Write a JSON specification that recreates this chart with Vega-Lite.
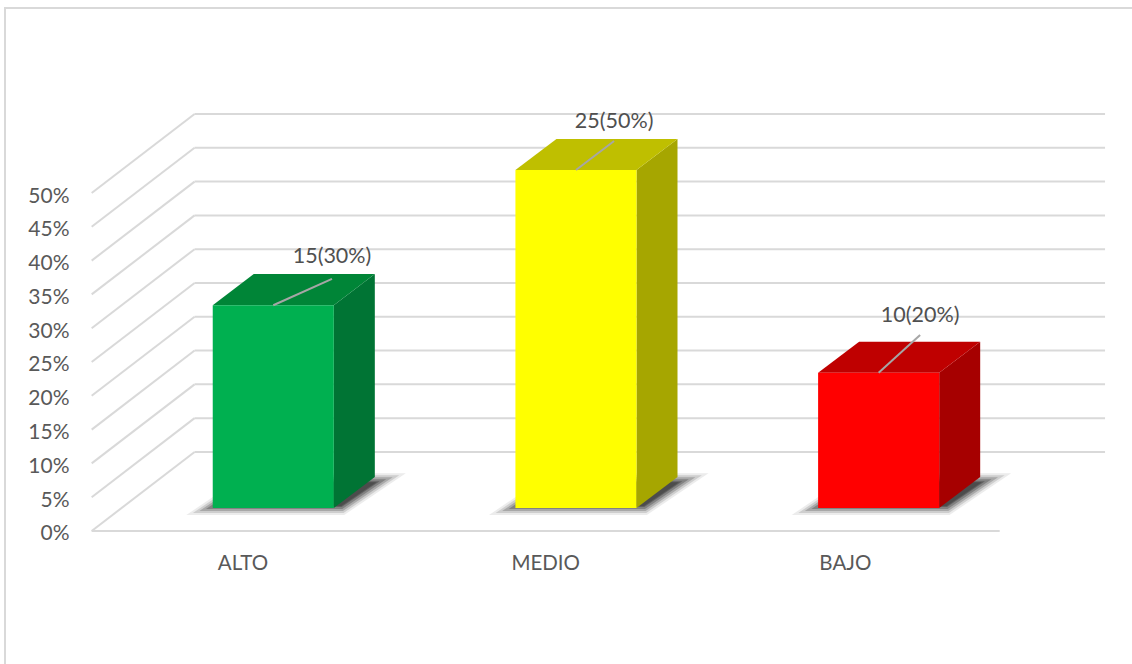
{
  "$schema": "https://vega.github.io/schema/vega-lite/v6.json",
  "width": 1140,
  "height": 670,
  "autosize": "none",
  "padding": {"left": 5, "top": 8, "right": 0, "bottom": 0},
  "background": "white",
  "view": {"stroke": "#d9d9d9", "strokeWidth": 2, "fill": "white"},
  "config": {"font": "Lato", "text": {"font": "Lato"}},
  "datasets": {
    "barras": [
      {"categoria": "ALTO", "orden": 0, "n": 15, "pct": 30, "rotulo": "15(30%)", "rotulo_x": 0.294, "rotulo_y": 37.3, "texto_y": 40.5, "eje_x": 0},
      {"categoria": "MEDIO", "orden": 1, "n": 25, "pct": 50, "rotulo": "25(50%)", "rotulo_x": 1.226, "rotulo_y": 57.7, "texto_y": 60.5, "eje_x": 1},
      {"categoria": "BAJO", "orden": 2, "n": 10, "pct": 20, "rotulo": "10(20%)", "rotulo_x": 2.237, "rotulo_y": 29, "texto_y": 31.8, "eje_x": 1.99}
    ],
    "rejilla": [
      {"nivel": 0}, {"nivel": 5}, {"nivel": 10}, {"nivel": 15}, {"nivel": 20}, {"nivel": 25},
      {"nivel": 30}, {"nivel": 35}, {"nivel": 40}, {"nivel": 45}, {"nivel": 50}
    ]
  },
  "resolve": {"scale": {"color": "independent"}, "axis": {"y": "independent", "x": "independent"}},
  "layer": [
    {
      "description": "Left wall: slanted grid lines running from the front edge to the back wall",
      "data": {"name": "rejilla"},
      "transform": [{"calculate": "datum.nivel + 11.69", "as": "fondo"}],
      "mark": {"type": "rule", "color": "#d9d9d9", "strokeWidth": 2},
      "encoding": {
        "x": {"datum": -0.5, "type": "quantitative", "scale": {"domain": [-0.78634, 2.98], "nice": false, "zero": false}, "axis": null},
        "x2": {"datum": -0.16},
        "y": {
          "field": "nivel",
          "type": "quantitative",
          "scale": {"domain": [-21.75, 77.37], "nice": false, "zero": false},
          "axis": {
            "values": [0, 5, 10, 15, 20, 25, 30, 35, 40, 45, 50],
            "labelExpr": "datum.value + '%'",
            "title": null,
            "domain": false,
            "ticks": false,
            "grid": false,
            "offset": -64,
            "labelPadding": 0,
            "labelOffset": 3,
            "labelFont": "Lato",
            "labelFontSize": 21,
            "labelColor": "#595959"
          }
        },
        "y2": {"field": "fondo"}
      }
    },
    {
      "description": "Back wall: horizontal grid lines",
      "data": {"name": "rejilla"},
      "transform": [{"calculate": "datum.nivel + 11.69", "as": "fondo"}],
      "mark": {"type": "rule", "color": "#d9d9d9", "strokeWidth": 2},
      "encoding": {
        "x": {"datum": -0.16, "type": "quantitative", "axis": null},
        "x2": {"datum": 2.848},
        "y": {"field": "fondo", "type": "quantitative", "axis": null}
      }
    },
    {
      "description": "Floor front edge",
      "data": {"values": [{"nivel": 0}]},
      "mark": {"type": "rule", "color": "#d9d9d9", "strokeWidth": 2},
      "encoding": {
        "x": {"datum": -0.5, "type": "quantitative", "axis": null},
        "x2": {"datum": 2.5},
        "y": {"field": "nivel", "type": "quantitative", "axis": null}
      }
    },
    {
      "description": "Soft floor shadow built from nested translucent outlines",
      "data": {"name": "barras"},
      "transform": [
        {"calculate": "[0, 1]", "as": "prof"},
        {"flatten": ["prof"]},
        {"calculate": "datum.orden - 0.09 + datum.prof * 0.1156", "as": "izq"},
        {"calculate": "datum.orden + 0.325 + datum.prof * 0.1156", "as": "der"},
        {"calculate": "3.7 + datum.prof * 3.5", "as": "alto"}
      ],
      "layer": [
        {"mark": {"type": "area", "orient": "horizontal", "color": "#000000", "stroke": "#000000", "strokeWidth": 18, "strokeJoin": "miter", "strokeMiterLimit": 6, "opacity": 0.07}},
        {"mark": {"type": "area", "orient": "horizontal", "color": "#000000", "stroke": "#000000", "strokeWidth": 14, "strokeJoin": "miter", "strokeMiterLimit": 6, "opacity": 0.12}},
        {"mark": {"type": "area", "orient": "horizontal", "color": "#000000", "stroke": "#000000", "strokeWidth": 10, "strokeJoin": "miter", "strokeMiterLimit": 6, "opacity": 0.18}},
        {"mark": {"type": "area", "orient": "horizontal", "color": "#000000", "stroke": "#000000", "strokeWidth": 6, "strokeJoin": "miter", "strokeMiterLimit": 6, "opacity": 0.22}},
        {"mark": {"type": "area", "orient": "horizontal", "color": "#000000", "stroke": "#000000", "strokeWidth": 2, "strokeJoin": "miter", "strokeMiterLimit": 6, "opacity": 0.25}},
        {"mark": {"type": "area", "orient": "horizontal", "color": "#000000", "opacity": 0.2}}
      ],
      "encoding": {
        "x": {"field": "izq", "type": "quantitative", "axis": null},
        "x2": {"field": "der"},
        "y": {"field": "alto", "type": "quantitative", "axis": null},
        "detail": {"field": "categoria"}
      }
    },
    {
      "description": "Right side faces of the bars",
      "data": {"name": "barras"},
      "transform": [
        {"calculate": "[0, 1]", "as": "prof"},
        {"flatten": ["prof"]},
        {"calculate": "datum.orden + 0.3 + datum.prof * 0.1355", "as": "x"},
        {"calculate": "datum.pct + 3.4 + datum.prof * 4.6", "as": "techo"},
        {"calculate": "3.4 + datum.prof * 4.6", "as": "base"}
      ],
      "mark": {"type": "area", "orient": "vertical"},
      "encoding": {
        "x": {"field": "x", "type": "quantitative", "axis": null},
        "y": {"field": "techo", "type": "quantitative", "axis": null},
        "y2": {"field": "base"},
        "color": {
          "field": "categoria",
          "type": "nominal",
          "legend": null,
          "scale": {"domain": ["ALTO", "MEDIO", "BAJO"], "range": ["#007434", "#a6a600", "#a60000"]}
        }
      }
    },
    {
      "description": "Top faces of the bars",
      "data": {"name": "barras"},
      "transform": [
        {"calculate": "[0, 1]", "as": "prof"},
        {"flatten": ["prof"]},
        {"calculate": "datum.orden - 0.1 + datum.prof * 0.1355", "as": "izq"},
        {"calculate": "datum.orden + 0.3 + datum.prof * 0.1355", "as": "der"},
        {"calculate": "datum.pct + 3.4 + datum.prof * 4.6", "as": "techo"}
      ],
      "mark": {"type": "area", "orient": "horizontal"},
      "encoding": {
        "x": {"field": "izq", "type": "quantitative", "axis": null},
        "x2": {"field": "der"},
        "y": {"field": "techo", "type": "quantitative", "axis": null},
        "color": {
          "field": "categoria",
          "type": "nominal",
          "legend": null,
          "scale": {"domain": ["ALTO", "MEDIO", "BAJO"], "range": ["#008537", "#bfbf00", "#bf0000"]}
        }
      }
    },
    {
      "description": "Front faces of the bars, lifted off the front edge by the floor depth",
      "data": {"name": "barras"},
      "transform": [
        {"calculate": "datum.orden - 0.1", "as": "izq"},
        {"calculate": "datum.orden + 0.3", "as": "der"},
        {"calculate": "datum.pct + 3.4", "as": "techo"}
      ],
      "mark": {"type": "rect"},
      "encoding": {
        "x": {"field": "izq", "type": "quantitative", "axis": null},
        "x2": {"field": "der"},
        "y": {"field": "techo", "type": "quantitative", "axis": null},
        "y2": {"datum": 3.4},
        "color": {
          "field": "categoria",
          "type": "nominal",
          "legend": null,
          "scale": {"domain": ["ALTO", "MEDIO", "BAJO"], "range": ["#00b050", "#ffff00", "#ff0000"]}
        }
      }
    },
    {
      "description": "Leader lines from the bar tops to their value labels",
      "data": {"name": "barras"},
      "transform": [
        {"calculate": "datum.orden + 0.1", "as": "centro"},
        {"calculate": "datum.pct + 3.4", "as": "techo"}
      ],
      "mark": {"type": "rule", "color": "#a6a6a6", "strokeWidth": 2},
      "encoding": {
        "x": {"field": "centro", "type": "quantitative", "axis": null},
        "x2": {"field": "rotulo_x"},
        "y": {"field": "techo", "type": "quantitative", "axis": null},
        "y2": {"field": "rotulo_y"}
      }
    },
    {
      "description": "Value labels",
      "data": {"name": "barras"},
      "mark": {"type": "text", "font": "Lato", "fontSize": 21.5, "color": "#505050", "baseline": "middle"},
      "encoding": {
        "x": {"field": "rotulo_x", "type": "quantitative", "axis": null},
        "y": {"field": "texto_y", "type": "quantitative", "axis": null},
        "text": {"field": "rotulo", "type": "nominal"}
      }
    },
    {
      "description": "Category names under the floor",
      "data": {"name": "barras"},
      "mark": {"type": "text", "font": "Lato", "fontSize": 20.5, "color": "#595959", "baseline": "middle"},
      "encoding": {
        "x": {"field": "eje_x", "type": "quantitative", "axis": null},
        "y": {"datum": -4.9, "type": "quantitative", "axis": null},
        "text": {"field": "categoria", "type": "nominal"}
      }
    }
  ]
}
